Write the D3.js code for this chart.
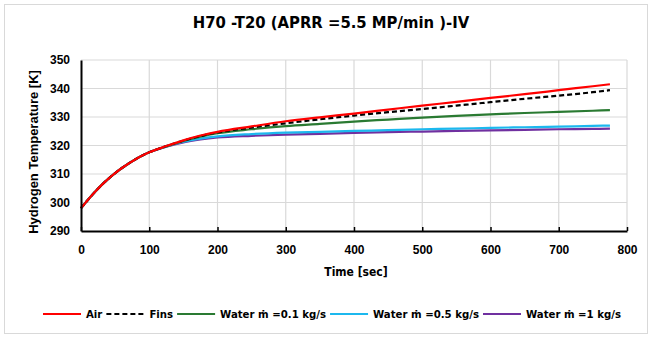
<!DOCTYPE html>
<html>
<head>
<meta charset="utf-8">
<script src="https://cdn.jsdelivr.net/npm/d3@7"></script>
<style>
  html, body { margin: 0; padding: 0; background: #fff; }
  svg { display: block; }
  .narrow { font-family: "Liberation Sans Narrow", "DejaVu Sans Condensed", "Roboto Condensed", "Liberation Sans", sans-serif; font-stretch: condensed; }
  .std { font-family: "Liberation Sans", Arial, sans-serif; }
</style>
</head>
<body>
<svg id="chart" width="652" height="338"></svg>
<script>
// Time axis (seconds)
const time = [0, 10, 20, 30, 40, 50, 60, 70, 80, 90, 100, 125, 150, 175, 200,
              250, 300, 350, 400, 450, 500, 550, 600, 650, 700, 750, 775];

// Hydrogen temperature [K] for each cooling case
const air      = [298, 300.9, 303.6, 306.1, 308.3, 310.3, 312.1, 313.7, 315.2, 316.5, 317.6, 319.8, 321.8, 323.5, 324.8,
                  326.7, 328.5, 329.9, 331.2, 332.6, 334.0, 335.3, 336.7, 338.0, 339.4, 340.8, 341.5];
const fins     = [298, 300.9, 303.6, 306.1, 308.3, 310.3, 312.1, 313.7, 315.2, 316.5, 317.6, 319.8, 321.7, 323.3, 324.6,
                  326.3, 327.8, 329.2, 330.5, 331.7, 332.8, 334.0, 335.2, 336.4, 337.5, 338.7, 339.4];
const water01  = [298, 300.9, 303.6, 306.1, 308.3, 310.3, 312.1, 313.7, 315.2, 316.5, 317.6, 319.7, 321.6, 323.1, 324.3,
                  325.7, 326.8, 327.6, 328.4, 329.1, 329.8, 330.4, 330.9, 331.4, 331.8, 332.2, 332.4];
const water05  = [298, 300.9, 303.6, 306.1, 308.3, 310.3, 312.1, 313.7, 315.2, 316.5, 317.6, 319.7, 321.3, 322.4, 323.2,
                  324.0, 324.5, 324.8, 325.1, 325.4, 325.7, 325.9, 326.2, 326.4, 326.6, 326.9, 327.0];
const water1   = [298, 300.9, 303.6, 306.1, 308.3, 310.3, 312.1, 313.7, 315.2, 316.5, 317.6, 319.6, 321.1, 322.1, 322.8,
                  323.4, 323.8, 324.1, 324.4, 324.7, 324.9, 325.1, 325.3, 325.5, 325.7, 325.8, 325.9];

const seriesNames = ["Air", "Fins", "Water ṁ =0.1 kg/s", "Water ṁ =0.5 kg/s", "Water ṁ =1 kg/s"];
const seriesColors = ["#FF0000", "#000000", "#2A7A32", "#1CB8EE", "#7030A0"];
const seriesDash = [null, "5,3", null, null, null];
const seriesValues = [air, fins, water01, water05, water1];

const xTicks = [0, 100, 200, 300, 400, 500, 600, 700, 800];
const yTicks = [290, 300, 310, 320, 330, 340, 350];

const chartTitle = "H70 -T20 (APRR =5.5 MP/min )-IV";
const xTitle = "Time [sec]";
const yTitle = "Hydrogen Temperature [K]";

const svg = d3.select("#chart");
const W = 652, H = 338;
const plot = { left: 81, right: 627, top: 60, bottom: 231 };

// outer chart frame
svg.append("rect")
  .attr("x", 4.5).attr("y", 4.5).attr("width", W - 9).attr("height", H - 9)
  .attr("fill", "#fff").attr("stroke", "#d9d9d9").attr("stroke-width", 1);

const x = d3.scaleLinear().domain([0, 800]).range([plot.left, plot.right]);
const y = d3.scaleLinear().domain([290, 350]).range([plot.bottom, plot.top]);

// gridlines
const grid = svg.append("g").attr("stroke", "#d9d9d9").attr("stroke-width", 1.2);
grid.selectAll("line.h").data(yTicks.filter(v => v !== 290)).join("line")
  .attr("x1", plot.left).attr("x2", plot.right)
  .attr("y1", d => y(d)).attr("y2", d => y(d));
grid.selectAll("line.v").data(xTicks.filter(v => v !== 0)).join("line")
  .attr("y1", plot.top).attr("y2", plot.bottom)
  .attr("x1", d => x(d)).attr("x2", d => x(d));

// data lines
const line = d3.line()
  .x((d, i) => x(time[i]))
  .y(d => y(d))
  .curve(d3.curveMonotoneX);

const drawOrder = [4, 3, 2, 1, 0];
drawOrder.forEach(k => {
  svg.append("path")
    .datum(seriesValues[k])
    .attr("d", line)
    .attr("fill", "none")
    .attr("stroke", seriesColors[k])
    .attr("stroke-width", 2.2)
    .attr("stroke-dasharray", seriesDash[k]);
});

// x axis (ticks pointing inward)
const xAxis = svg.append("g")
  .attr("transform", `translate(0,${plot.bottom})`)
  .call(d3.axisBottom(x).tickValues(xTicks).tickSizeInner(-4).tickSizeOuter(0).tickPadding(14));
xAxis.select(".domain").attr("stroke", "#000").attr("stroke-width", 2);
xAxis.selectAll(".tick line").attr("stroke", "#000").attr("stroke-width", 1.5);
xAxis.selectAll("text")
  .attr("class", "std")
  .attr("font-size", 12).attr("font-weight", "bold").attr("fill", "#000");

// y axis
const yAxis = svg.append("g")
  .attr("transform", `translate(${plot.left},0)`)
  .call(d3.axisLeft(y).tickValues(yTicks).tickSize(0).tickPadding(11));
yAxis.select(".domain").attr("stroke", "#000").attr("stroke-width", 2);
yAxis.selectAll("text")
  .attr("class", "std")
  .attr("font-size", 12).attr("font-weight", "bold").attr("fill", "#000");

// titles
svg.append("text")
  .attr("class", "narrow")
  .attr("x", 331).attr("y", 28)
  .attr("text-anchor", "middle")
  .attr("font-size", 16.5).attr("font-weight", "bold").attr("fill", "#000")
  .text(chartTitle);

svg.append("text")
  .attr("class", "narrow")
  .attr("x", 356).attr("y", 276)
  .attr("text-anchor", "middle")
  .attr("font-size", 12).attr("font-weight", "bold").attr("fill", "#000")
  .text(xTitle);

svg.append("text")
  .attr("class", "std")
  .attr("transform", "translate(38,152) rotate(-90)")
  .attr("text-anchor", "middle")
  .attr("font-size", 13).attr("font-weight", "bold").attr("fill", "#000")
  .text(yTitle);

// legend
const legendY = 314;
const legend = svg.append("g");
let cx = 43;
seriesNames.forEach((name, k) => {
  legend.append("line")
    .attr("x1", cx).attr("x2", cx + 38)
    .attr("y1", legendY).attr("y2", legendY)
    .attr("stroke", seriesColors[k]).attr("stroke-width", 2.2)
    .attr("stroke-dasharray", seriesDash[k]);
  const t = legend.append("text")
    .attr("class", "narrow")
    .attr("x", cx + 43).attr("y", legendY + 4)
    .attr("font-size", 11.3).attr("font-weight", "bold").attr("fill", "#000")
    .text(name);
  cx += 43 + t.node().getComputedTextLength() + 4;
});
</script>
</body>
</html>
